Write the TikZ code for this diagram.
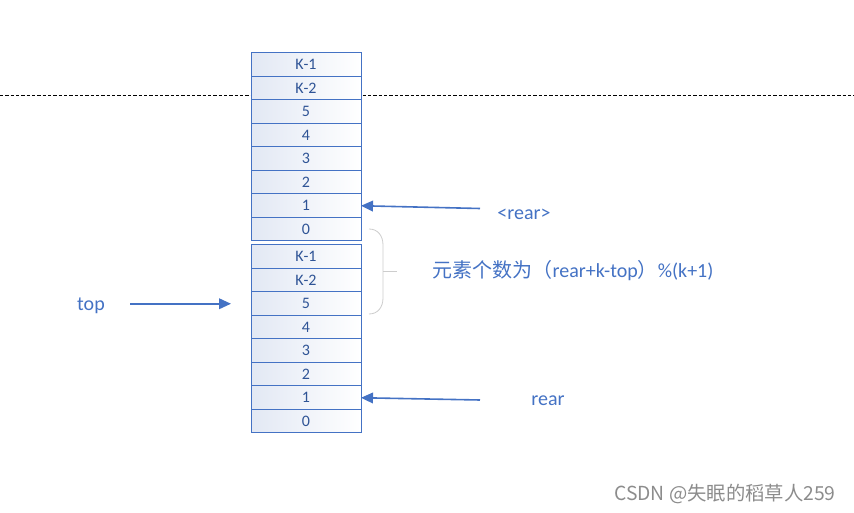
\documentclass[tikz,border=0pt]{standalone}
\usepackage{fontspec}
\setmainfont{Carlito}
\newfontfamily\cjk{Noto Sans CJK SC}
\usepackage{tikz}
\usetikzlibrary{arrows.meta, positioning}
\definecolor{queueblue}{RGB}{68, 114, 196}
\definecolor{queuetext}{RGB}{47, 84, 150}
\definecolor{queuefill}{RGB}{226, 232, 244}
\definecolor{bracegray}{RGB}{205, 205, 205}

\begin{document}
\begin{tikzpicture}[
    x=0.75pt, y=-0.75pt,
    every node/.style={font=\small},
    cell/.style={rectangle, draw=queueblue, line width=0.75pt, left color=queuefill, right color=white, minimum width=82.5pt, minimum height=17.625pt, inner sep=0pt, outer sep=0pt, text=queuetext, font=\fontsize{12}{14}\selectfont},
    pointer/.style={-{Triangle[length=9pt, width=8pt]}, draw=queueblue, line width=1.2pt},
    label/.style={text=queueblue, font=\fontsize{15}{18}\selectfont}
]
\useasboundingbox (0,0) rectangle (854,513);

\draw[line width=0.6pt, dash pattern=on 2.5pt off 1.5pt] (0,95) -- (854,95);

\foreach \val [count=\i] in {K-1,K-2,5,4,3,2,1,0} {
    \node[cell] (a\i) at (306, 64.75+23.5*\i-23.5) {\val};
    \node[cell] (b\i) at (306, 256.75+23.5*\i-23.5) {\val};
}

\node[label] (rearup) at (524,214) {<rear>};
\node[label] (formula) at (573,271) {{\cjk 元素个数为（}rear+k-top{\cjk ）}\%(k+1)};
\node[label] (toplab) at (91,306) {top};
\node[label] (rearlow) at (548,401) {rear};

\coordinate (uptail) at (480,208.5);
\coordinate (lowtail) at (480,400);
\coordinate (toptail) at (130,303.75);

\draw[pointer] (uptail) -- (a7.east);
\draw[pointer] (lowtail) -- (b7.east);
\draw[pointer, shorten >=15pt] (toptail) -- (b3.west);

\draw[bracegray, line width=0.6pt] (369,229) .. controls (378,229) and (383,236) .. (383,245) -- (383,298) .. controls (383,307) and (378,314) .. (369,314);
\draw[bracegray, line width=0.6pt] (383,271) -- (397,271);

\node[text=black!45, font=\cjk\fontsize{14.5}{17}\selectfont] (mark) at (725,494) {CSDN @失眠的稻草人259};

\end{tikzpicture}
\end{document}
